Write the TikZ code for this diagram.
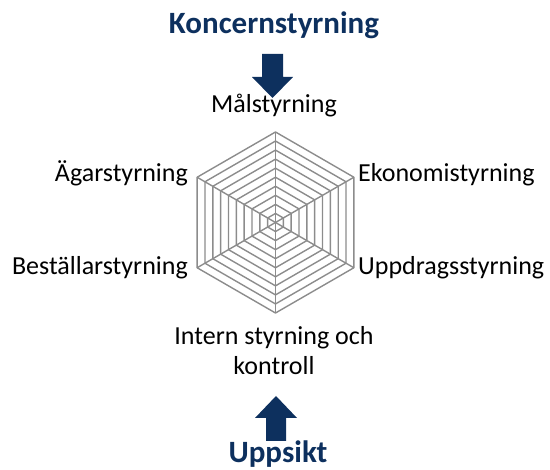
\documentclass[tikz,border=0pt]{standalone}
\usepackage{fontspec}
\setmainfont{Carlito}
\usepackage{xcolor}
\usetikzlibrary{calc}
\definecolor{navy}{RGB}{13,48,94}
\definecolor{webgray}{RGB}{140,140,140}
\tikzset{
  lbl/.style={font=\fontsize{26}{30}\selectfont, anchor=base, inner sep=0pt},
  ttl/.style={font=\fontsize{31}{36}\selectfont\bfseries, text=navy, anchor=base, inner sep=0pt},
  blockarrow/.style={fill=navy}
}
\begin{document}
\begin{tikzpicture}[x=1pt, y=-1pt]
			\useasboundingbox (0,0) rectangle (550,470);
			% Rubriker
			\node [ttl] (koncern) at (274,33.5) {Koncernstyrning};
			\node [ttl] (uppsikt) at (278,463) {Uppsikt};
			% Pilar
			\fill [blockarrow] (262,54) -- (283,54) -- (283,77) -- (293,77) -- (272.5,98) -- (252,77) -- (262,77) -- cycle;
			\fill [blockarrow] (266,441) -- (286,441) -- (286,418) -- (297,418) -- (276,396) -- (255,418) -- (266,418) -- cycle;
			% Nätet
			\coordinate (c) at (275.5,222.5);
			\foreach \r in {1,...,10}
			\draw [webgray, line width=1.4pt, line join=round]
				($(c)+(90:\r*9.05)$) -- ($(c)+(150:\r*9.05)$) -- ($(c)+(210:\r*9.05)$)
				-- ($(c)+(270:\r*9.05)$) -- ($(c)+(330:\r*9.05)$) -- ($(c)+(30:\r*9.05)$) -- cycle;
			\foreach \a in {90,150,...,390}
			\draw [webgray, line width=1.4pt] (c) -- ++(\a:90.5);
			% Etiketter
			\node [lbl] (mal) at (274,113) {Målstyrning};
			\node [lbl, anchor=base east] (agar) at (188,182) {Ägarstyrning};
			\node [lbl, anchor=base east] (best) at (188,275) {Beställarstyrning};
			\node [lbl, anchor=base west] (eko) at (358,182) {Ekonomistyrning};
			\node [lbl, anchor=base west] (uppdrag) at (358,275) {Uppdragsstyrning};
			\node [lbl] (intern) at (274,345) {Intern styrning och};
			\node [lbl] (kontroll) at (274,375) {kontroll};
\end{tikzpicture}
\end{document}
